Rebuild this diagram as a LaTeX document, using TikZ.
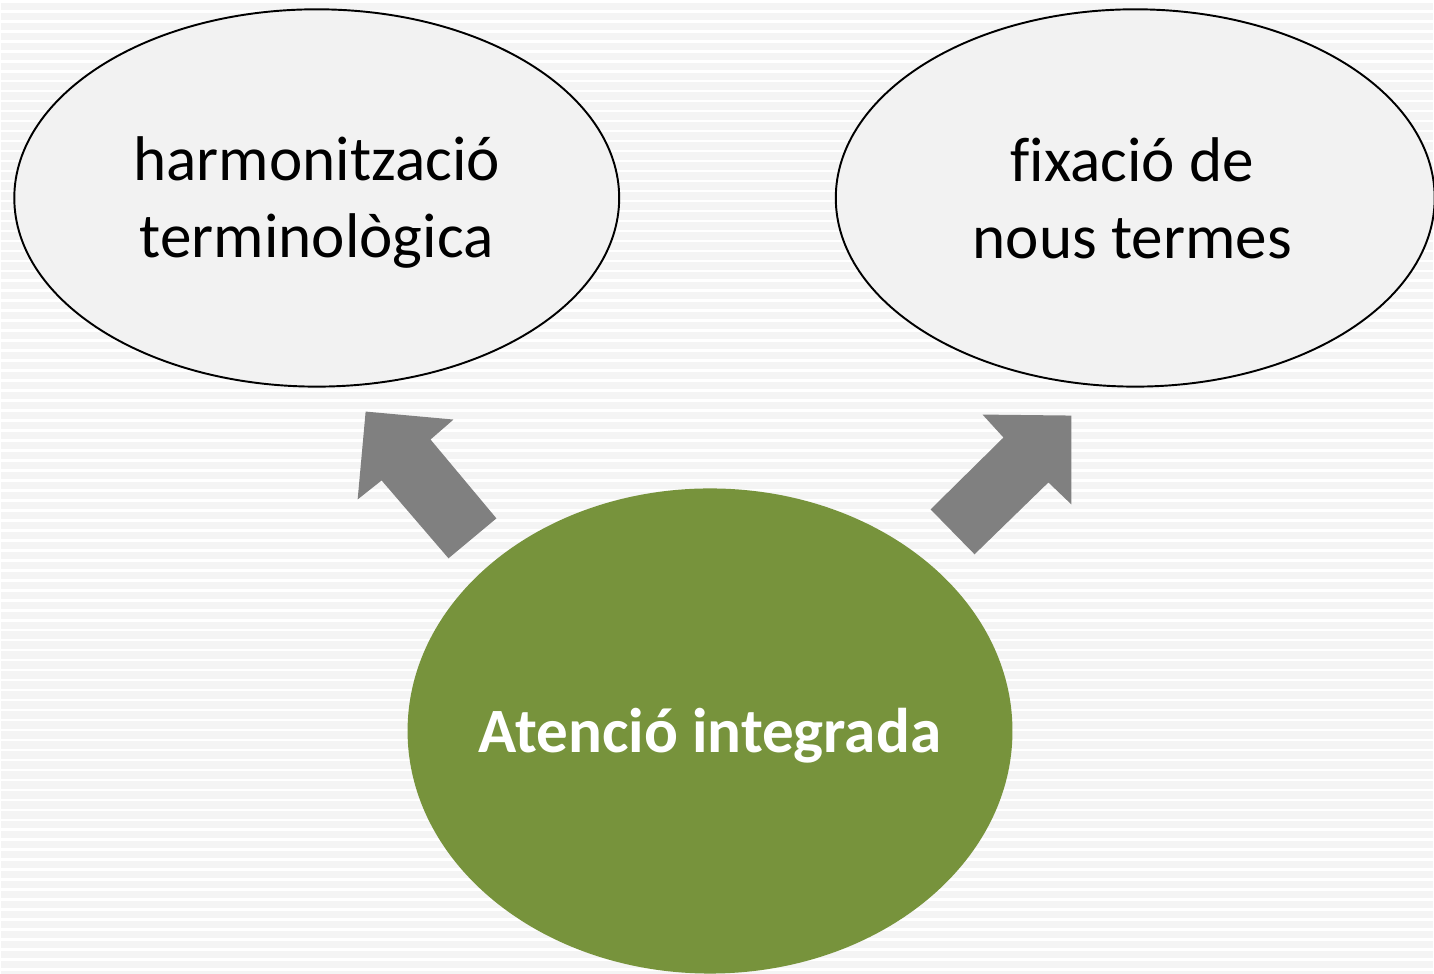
\documentclass[tikz,border=0pt]{standalone}
\usepackage{fontspec}
\setmainfont[Ligatures=CommonOff]{Carlito}
\definecolor{bgray}{HTML}{F4F4F4}
\definecolor{ovalfill}{HTML}{F2F2F2}
\definecolor{olive}{HTML}{77933C}
\definecolor{arrowgray}{HTML}{808080}
\tikzset{
  oval/.style={ellipse, draw=black, line width=1.1pt, fill=ovalfill, inner sep=0pt},
  core/.style={ellipse, fill=olive, inner sep=0pt},
  ovaltext/.style={anchor=base, inner sep=0pt, align=center,
    font=\fontsize{36}{44}\selectfont},
  coretext/.style={anchor=base, inner sep=0pt, text=white,
    font=\fontsize{36}{44}\selectfont\bfseries},
  blockarrow/.style={fill=arrowgray}
}
\usetikzlibrary{shapes.geometric}
\begin{document}
\begin{tikzpicture}[x=0.02cm, y=-0.02cm]
        \fill[bgray] (0,0) rectangle (1434,974);
        \foreach \y in {0,10,...,970} \draw[white, line width=1.5pt] (0,\y) -- (1434,\y);
        \useasboundingbox (0,0) rectangle (1434,974);
        % ovals
        \node[oval, minimum width=606*0.02cm, minimum height=378*0.02cm] (harm) at (316,197) {};
        \node[oval, minimum width=600*0.02cm, minimum height=378*0.02cm] (fix) at (1136,197) {};
        \node[core, minimum width=606*0.02cm, minimum height=486*0.02cm] (aten) at (710,731) {};
        % labels
        \node[ovaltext] (harmtext) at (316,257) {harmonització\\terminològica};
        \node[ovaltext] (fixtext) at (1133,258) {fixació de\\nous termes};
        \node[coretext] (atentext) at (710,753) {Atenció integrada};
        % block arrows
        \fill[blockarrow] (365,411) -- (453,419) -- (430,439) -- (496,518) -- (448,558) -- (381,480) -- (357,499) -- cycle;
        \fill[blockarrow] (1072,415) -- (983,414) -- (1004,437) -- (931,509) -- (975,554) -- (1049,482) -- (1072,504) -- cycle;
    \end{tikzpicture}
\end{document}
